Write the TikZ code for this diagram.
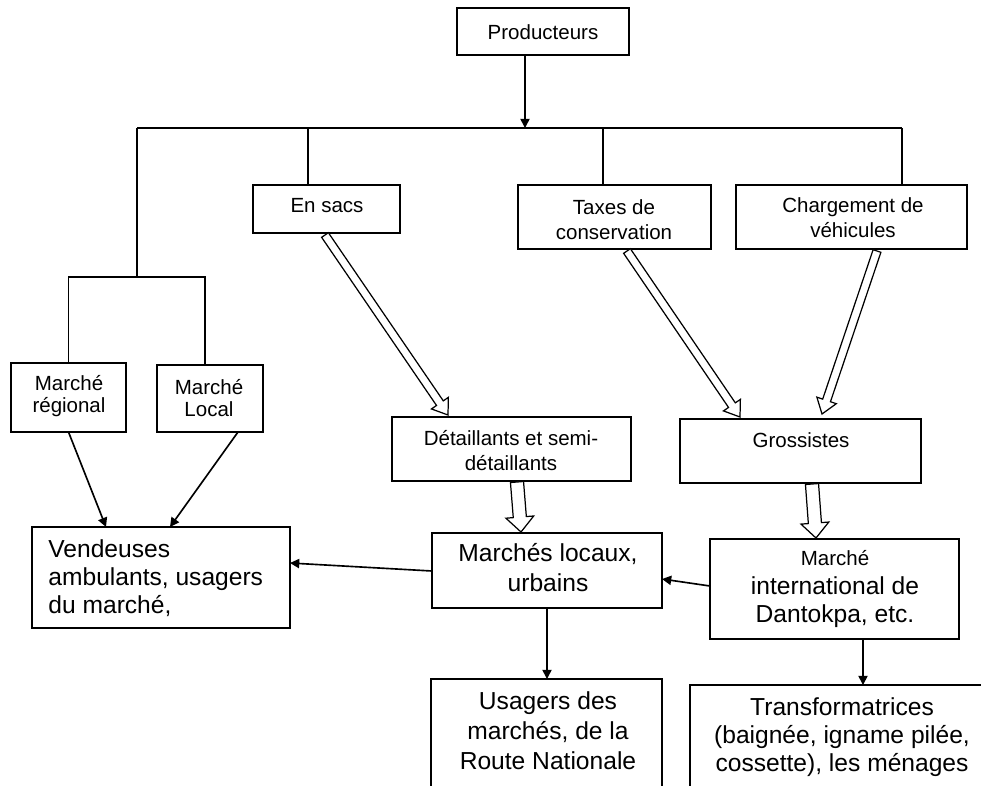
\documentclass[tikz,border=0pt]{standalone}
\usepackage{fontspec}
\setmainfont{Liberation Sans}
\usetikzlibrary{arrows.meta,calc}
\tikzset{
  box/.style={draw, line width=0.8pt, inner sep=0pt, outer sep=0pt, anchor=north west},
  ta/.style={font=\fontsize{10}{12.2}\selectfont, align=center, inner sep=0pt},
  tb/.style={font=\fontsize{12}{13.8}\selectfont, align=center, inner sep=0pt},
  ln/.style={line width=0.8pt},
  arr/.style={line width=0.8pt, -{Triangle[length=4.5pt,width=4.5pt]}},
  hol/.style={draw, fill=white, line width=0.6pt, line join=miter},
}
\newcommand\mybox[5]{\node[box, minimum width={(#4-#2)*0.4878pt}, minimum height={(#5-#3)*0.4878pt}] (#1) at (#2,#3) {};}
\newcommand\harrow[5]{%
  \coordinate (#1#2c) at ($(#2)!#5!(#1)$);
  \draw[hol] ($(#1)!#3!90:(#2)$) -- ($(#1#2c)!#3!90:(#2)$) -- ($(#1#2c)!#4!90:(#2)$) -- (#2)
    -- ($(#1#2c)!#4!-90:(#2)$) -- ($(#1#2c)!#3!-90:(#2)$) -- ($(#1)!#3!-90:(#2)$) -- cycle;}
\begin{document}
\begin{tikzpicture}[x=0.4878pt, y=-0.4878pt]
\useasboundingbox (0,0) rectangle (981,785);
\clip (0,0) rectangle (981,785);
% boxes
\mybox{prod}{457}{8}{629}{55}
\mybox{sacs}{253}{185}{400}{233}
\mybox{taxes}{518}{185}{711}{249}
\mybox{charg}{736}{185}{967}{249}
\mybox{reg}{11}{363}{126}{432}
\mybox{loc}{157}{365}{263}{432}
\mybox{vend}{32}{527}{290}{628}
\mybox{det}{392}{417}{631}{481}
\mybox{gros}{680}{419}{921}{483}
\mybox{mloc}{432}{533}{662}{608}
\mybox{mint}{710}{539}{959}{639}
\mybox{usag}{431}{679}{662}{800}
\mybox{trans}{690}{685}{1000}{800}
% texts
\node[ta] (prodT) at (543,32) {Producteurs};
\node[ta] (sacsT) at (327,206) {En sacs};
\node[ta] (taxesT) at (614,220) {Taxes de\\conservation};
\node[ta] (chargT) at (853,218) {Chargement de\\véhicules};
\node[ta, font=\fontsize{10}{10.8}\selectfont] (regT) at (69,396) {Marché\\régional};
\node[ta, font=\fontsize{10}{10.8}\selectfont] (locT) at (209,398) {Marché\\Local};
\node[tb, align=left, anchor=west] (vendT) at (48,578) {Vendeuses\\ambulants, usagers\\du marché,};
\node[ta] (detT) at (511,451) {Détaillants et semi-\\détaillants};
\node[ta] (grosT) at (801,440) {Grossistes};
\node[tb, font=\fontsize{12}{14.6}\selectfont] (mlocT) at (548,568) {Marchés locaux,\\urbains};
\node[tb] (mintT) at (835,589) {{\fontsize{10}{12}\selectfont Marché}\\international de\\Dantokpa, etc.};
\node[tb, font=\fontsize{12}{14.6}\selectfont] (usagT) at (548,731) {Usagers des\\marchés, de la\\Route Nationale};
\node[tb] (transT) at (842,737) {Transformatrices\\(baignée, igname pilée,\\cossette), les ménages};
% tree connectors
\coordinate (bj) at (525,128);
\coordinate (bl) at (137,128);
\coordinate (br) at (902,128);
\coordinate (sb) at (137,277);
\coordinate (v1) at (308,185);
\coordinate (v2) at (603,185);
\coordinate (v3) at (902,185);
\draw[arr] (prod.south -| bj) -- (bj);
\draw[ln] (bl) -- (br);
\draw[ln] (bl) -- (sb);
\draw[ln] (reg.north) |- (sb) -| ($(loc.north)+(-5,0)$);
\draw[ln] (v1 |- bl) -- (v1);
\draw[ln] (v2 |- bl) -- (v2);
\draw[ln] (br) -- (v3);
% thin arrows
\draw[arr] (reg.south) -- ($(vend.north west)+(74,0)$);
\draw[arr] ($(loc.south)+(28,0)$) -- ($(vend.north west)+(138,0)$);
\draw[arr] ($(mloc.west)+(0,0.5)$) -- ($(vend.east)+(0,-14.5)$);
\draw[arr] ($(mint.west)+(0,-3)$) -- ($(mloc.east)+(0,8.5)$);
\draw[arr] (mloc.south) -- (mloc.south |- usag.north);
\coordinate (mo) at ($(mint.south)+(28.5,0)$);
\draw[arr] (mo) -- (mo |- trans.north);
% hollow arrows
\coordinate (h1a) at (325,235); \coordinate (h1b) at (448,415);
\coordinate (h2a) at (627,251); \coordinate (h2b) at (740,417);
\coordinate (h3a) at (877,251); \coordinate (h3b) at (822,414);
\coordinate (h4a) at (517,482); \coordinate (h4b) at (521,532);
\coordinate (h5a) at (812,484); \coordinate (h5b) at (816,538);
\harrow{h1a}{h1b}{2pt}{5pt}{7pt}
\harrow{h2a}{h2b}{2pt}{5pt}{7pt}
\harrow{h3a}{h3b}{2pt}{5pt}{7pt}
\harrow{h4a}{h4b}{3.2pt}{6.8pt}{7.3pt}
\harrow{h5a}{h5b}{3.2pt}{6.8pt}{7.3pt}
\end{tikzpicture}
\end{document}
